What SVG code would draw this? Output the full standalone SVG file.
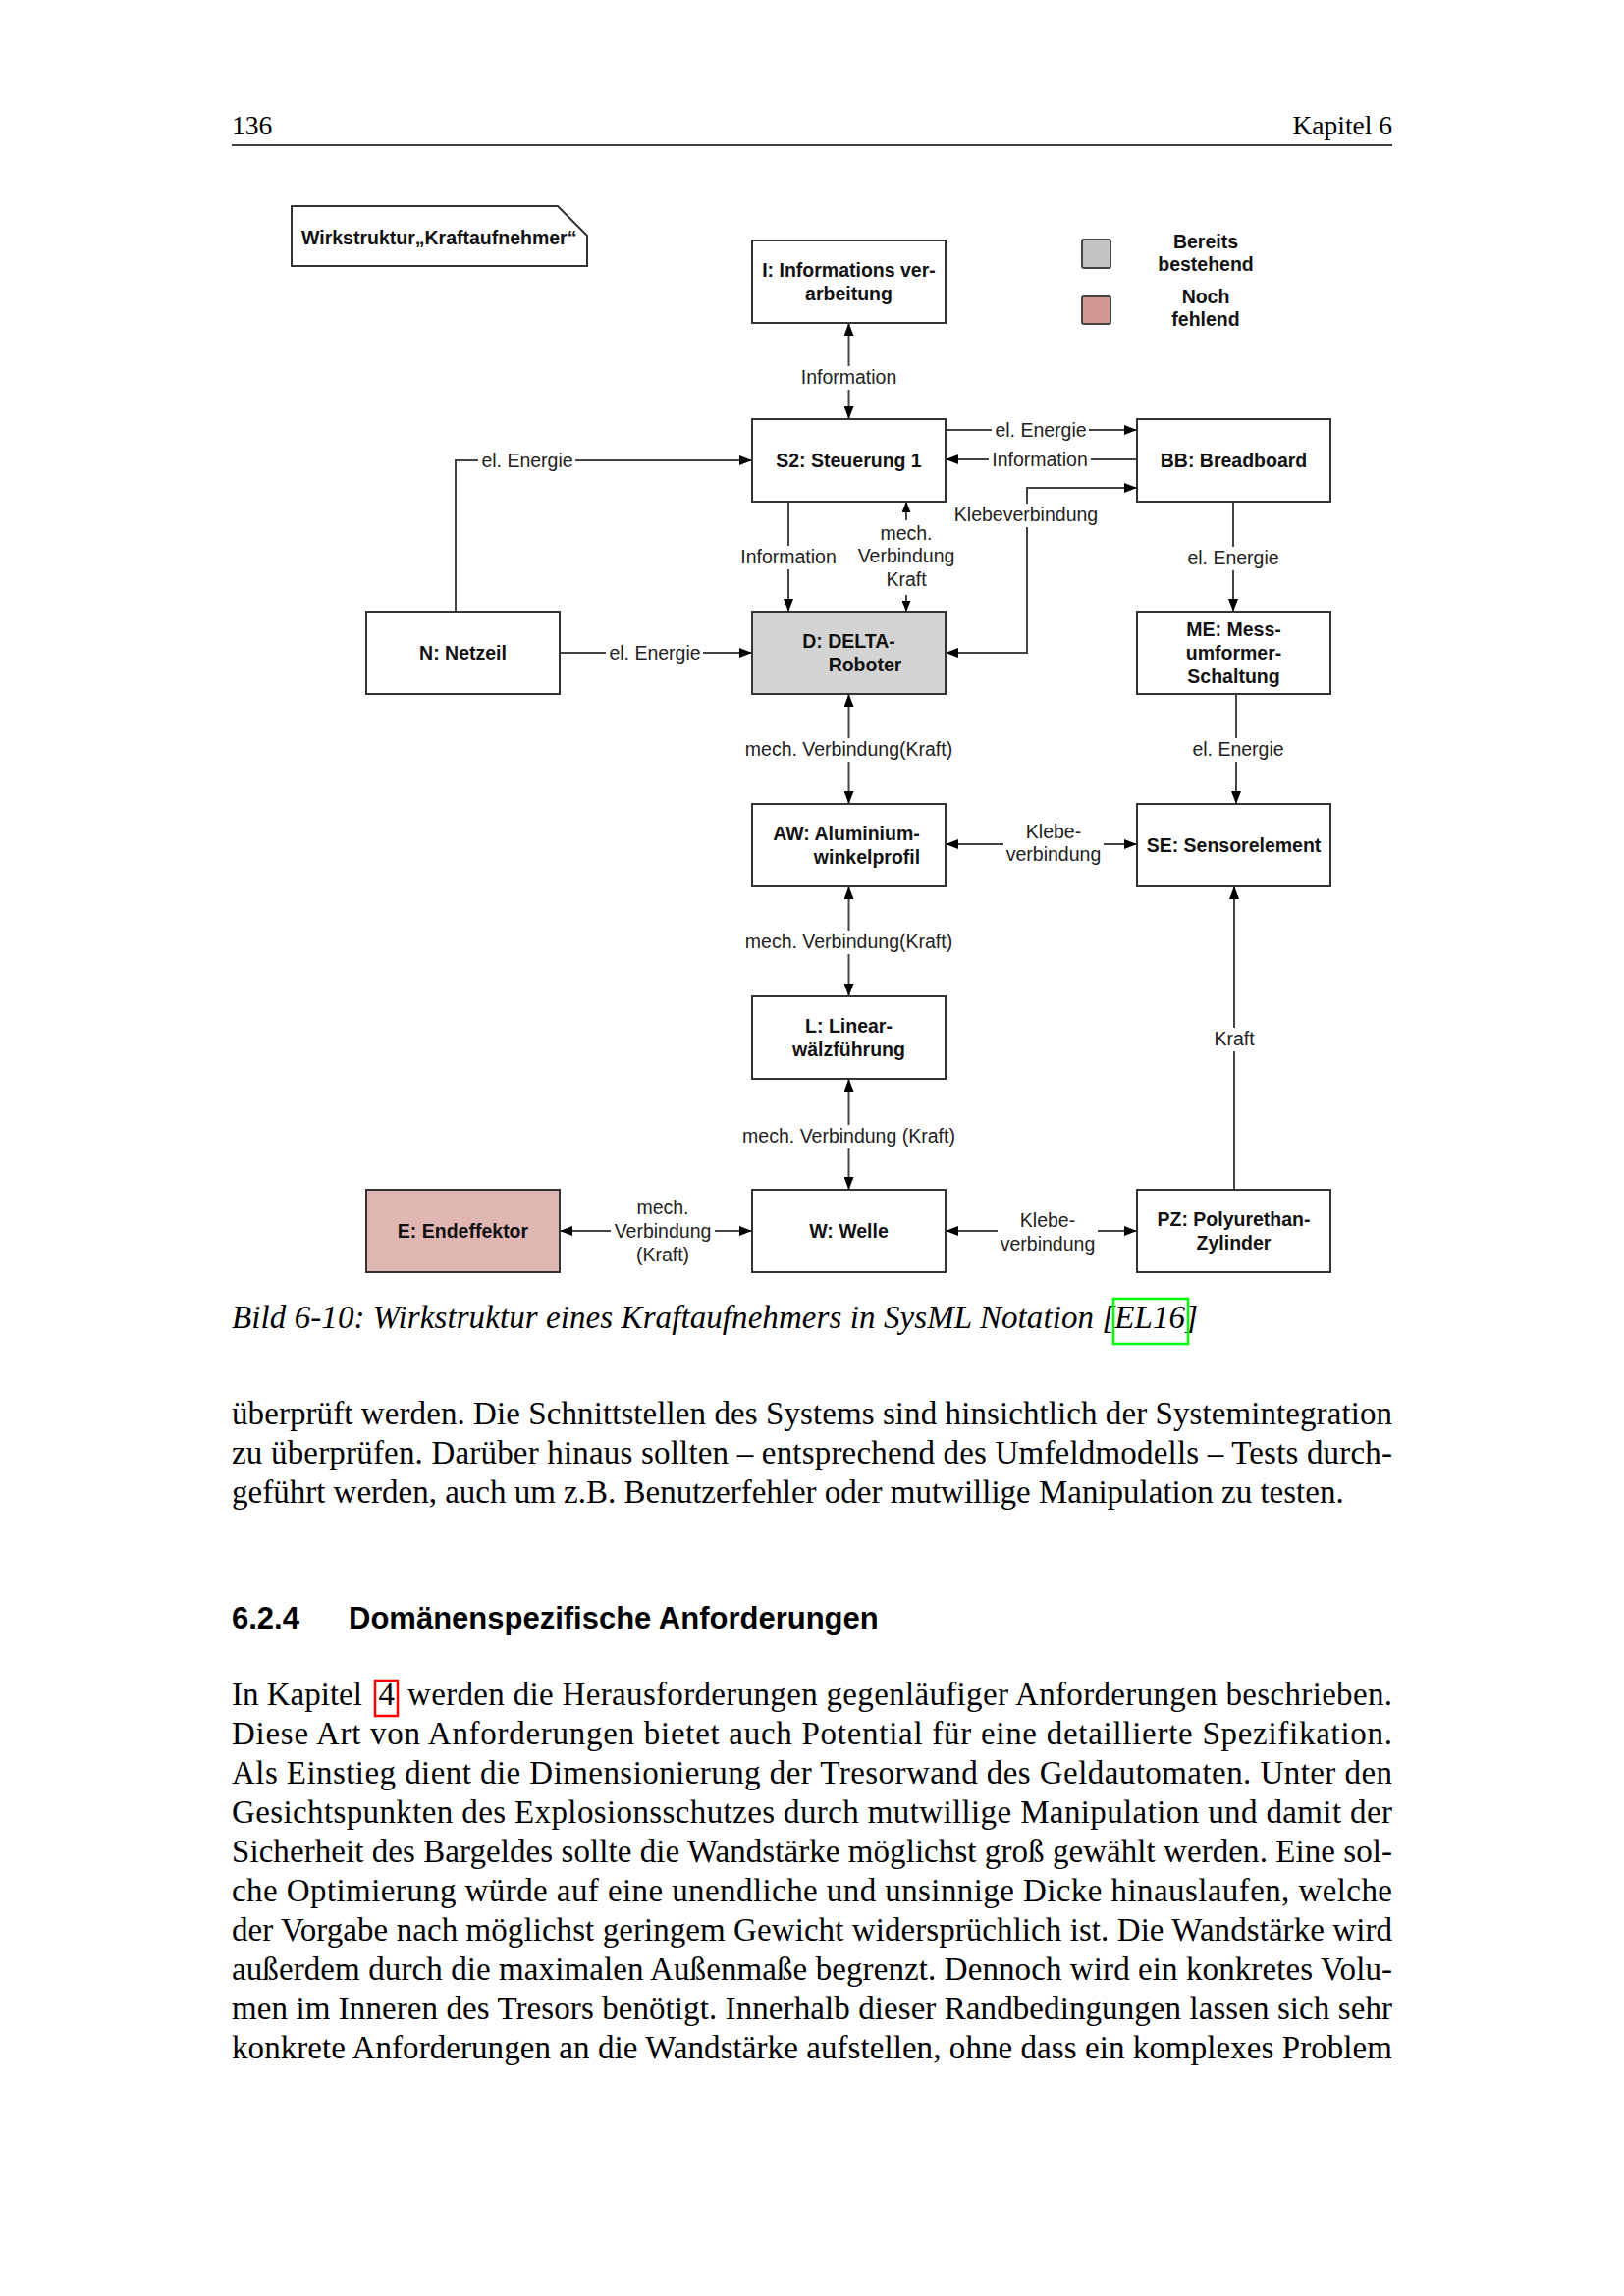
<svg xmlns="http://www.w3.org/2000/svg" width="1654" height="2339" viewBox="0 0 1654 2339">
<style>
.box{fill:#fff;stroke:#333;stroke-width:2}
.conn{fill:none;stroke:#444;stroke-width:2}
.nt{font-family:"Liberation Sans",Arial,sans-serif;font-size:19.5px;font-weight:bold;fill:#111;text-anchor:middle}
.lt{font-family:"Liberation Sans",Arial,sans-serif;font-size:19.5px;fill:#222;text-anchor:middle}
.bg{fill:#fff}
.body{font-family:"Liberation Serif","Times New Roman",serif;font-size:33px;fill:#000}
.hd{font-family:"Liberation Serif","Times New Roman",serif;font-size:27.5px;fill:#000}
.h2{font-family:"Liberation Sans",Arial,sans-serif;font-size:31px;font-weight:bold;fill:#000}
</style>
<defs>
<marker id="ah" viewBox="0 0 13 10" refX="13" refY="5" markerWidth="13" markerHeight="10" markerUnits="userSpaceOnUse" orient="auto-start-reverse"><path d="M0,0 L13,5 L0,10 z" fill="#000"/></marker>
<marker id="ahs" viewBox="0 0 11 9" refX="11" refY="4.5" markerWidth="11" markerHeight="9" markerUnits="userSpaceOnUse" orient="auto-start-reverse"><path d="M0,0 L11,4.5 L0,9 z" fill="#000"/></marker>
</defs>
<rect width="1654" height="2339" fill="#fff"/>

<g id="page">
<text class="hd" x="236" y="137">136</text>
<text class="hd" x="1418" y="137" text-anchor="end">Kapitel 6</text>
<line x1="236" y1="148" x2="1418" y2="148" stroke="#000" stroke-width="1.4"/>
<text class="body" x="236" y="1353" font-style="italic" textLength="984" lengthAdjust="spacing">Bild 6-10: Wirkstruktur eines Kraftaufnehmers in SysML Notation [EL16]</text>
<rect x="1134" y="1323" width="76" height="46" fill="none" stroke="#00ff00" stroke-width="2.5"/>
<text class="body" x="236" y="1451" textLength="1182" lengthAdjust="spacing">überprüft werden. Die Schnittstellen des Systems sind hinsichtlich der Systemintegration</text>
<text class="body" x="236" y="1491" textLength="1182" lengthAdjust="spacing">zu überprüfen. Darüber hinaus sollten – entsprechend des Umfeldmodells – Tests durch-</text>
<text class="body" x="236" y="1531">geführt werden, auch um z.B. Benutzerfehler oder mutwillige Manipulation zu testen.</text>
<text class="h2" x="236" y="1659">6.2.4</text>
<text class="h2" x="355" y="1659">Domänenspezifische Anforderungen</text>
<text class="body" x="236" y="1737">In Kapitel</text>
<text class="body" x="385.5" y="1737">4</text>
<text class="body" x="415" y="1737" textLength="1003" lengthAdjust="spacing">werden die Herausforderungen gegenläufiger Anforderungen beschrieben.</text>
<rect x="382" y="1712" width="23" height="36" fill="none" stroke="#ff0000" stroke-width="2.5"/>
<text class="body" x="236" y="1777" textLength="1182" lengthAdjust="spacing">Diese Art von Anforderungen bietet auch Potential für eine detaillierte Spezifikation.</text>
<text class="body" x="236" y="1817" textLength="1182" lengthAdjust="spacing">Als Einstieg dient die Dimensionierung der Tresorwand des Geldautomaten. Unter den</text>
<text class="body" x="236" y="1857" textLength="1182" lengthAdjust="spacing">Gesichtspunkten des Explosionsschutzes durch mutwillige Manipulation und damit der</text>
<text class="body" x="236" y="1897" textLength="1182" lengthAdjust="spacing">Sicherheit des Bargeldes sollte die Wandstärke möglichst groß gewählt werden. Eine sol-</text>
<text class="body" x="236" y="1937" textLength="1182" lengthAdjust="spacing">che Optimierung würde auf eine unendliche und unsinnige Dicke hinauslaufen, welche</text>
<text class="body" x="236" y="1977" textLength="1182" lengthAdjust="spacing">der Vorgabe nach möglichst geringem Gewicht widersprüchlich ist. Die Wandstärke wird</text>
<text class="body" x="236" y="2017" textLength="1182" lengthAdjust="spacing">außerdem durch die maximalen Außenmaße begrenzt. Dennoch wird ein konkretes Volu-</text>
<text class="body" x="236" y="2057" textLength="1182" lengthAdjust="spacing">men im Inneren des Tresors benötigt. Innerhalb dieser Randbedingungen lassen sich sehr</text>
<text class="body" x="236" y="2097" textLength="1182" lengthAdjust="spacing">konkrete Anforderungen an die Wandstärke aufstellen, ohne dass ein komplexes Problem</text>
</g>

<g id="frame">
<path d="M297,210 H568 L598,240 V271 H297 Z" fill="#fff" stroke="#333" stroke-width="2"/>
<text class="nt" x="307" y="249" style="text-anchor:start">Wirkstruktur„Kraftaufnehmer“</text>
</g>

<g id="legend">
<rect x="1102" y="244" width="29" height="29" rx="2" fill="#c3c3c3" stroke="#444" stroke-width="2"/>
<rect x="1102" y="302" width="29" height="28" rx="2" fill="#d49893" stroke="#444" stroke-width="2"/>
<text class="nt" x="1228" y="253" font-size="19">Bereits</text>
<text class="nt" x="1228" y="276" font-size="19">bestehend</text>
<text class="nt" x="1228" y="309" font-size="19">Noch</text>
<text class="nt" x="1228" y="332" font-size="19">fehlend</text>
</g>

<g id="connectors">
<path class="conn" d="M864.5,329 V427" marker-start="url(#ah)" marker-end="url(#ah)"/>
<path class="conn" d="M963,438 H1158" marker-end="url(#ah)"/>
<path class="conn" d="M1158,468 H963" marker-end="url(#ah)"/>
<path class="conn" d="M963,665 H1046 V497 H1158" marker-start="url(#ah)" marker-end="url(#ah)"/>
<path class="conn" d="M464,623 V469 H766" marker-end="url(#ah)"/>
<path class="conn" d="M570,665 H766" marker-end="url(#ah)"/>
<path class="conn" d="M803,511 V623" marker-end="url(#ah)"/>
<path class="conn" d="M923,511 V623" marker-start="url(#ahs)" marker-end="url(#ahs)"/>
<path class="conn" d="M864.5,707 V819" marker-start="url(#ah)" marker-end="url(#ah)"/>
<path class="conn" d="M1256,511 V623" marker-end="url(#ah)"/>
<path class="conn" d="M1259,707 V819" marker-end="url(#ah)"/>
<path class="conn" d="M963,860 H1158" marker-start="url(#ah)" marker-end="url(#ah)"/>
<path class="conn" d="M864.5,903 V1015" marker-start="url(#ah)" marker-end="url(#ah)"/>
<path class="conn" d="M864.5,1099 V1212" marker-start="url(#ah)" marker-end="url(#ah)"/>
<path class="conn" d="M1257,1212 V903" marker-end="url(#ah)"/>
<path class="conn" d="M570,1254 H766" marker-start="url(#ah)" marker-end="url(#ah)"/>
<path class="conn" d="M963,1254 H1158" marker-start="url(#ah)" marker-end="url(#ah)"/>

<rect class="bg" x="859" y="373" width="11" height="24"/>
<text class="lt" x="864.5" y="391">Information</text>
<rect class="bg" x="1010" y="433" width="99" height="10"/>
<text class="lt" x="1060" y="445">el. Energie</text>
<rect class="bg" x="1007" y="463" width="104" height="10"/>
<text class="lt" x="1059" y="475">Information</text>
<rect class="bg" x="1041" y="513" width="10" height="24"/>
<text class="lt" x="1045" y="531">Klebeverbindung</text>
<rect class="bg" x="487" y="464" width="99" height="10"/>
<text class="lt" x="537" y="476">el. Energie</text>
<rect class="bg" x="617" y="660" width="99" height="10"/>
<text class="lt" x="667" y="672">el. Energie</text>
<rect class="bg" x="798" y="556" width="10" height="24"/>
<text class="lt" x="803" y="574">Information</text>
<rect class="bg" x="918" y="530" width="10" height="76"/>
<text class="lt" x="923" y="550">mech.</text>
<text class="lt" x="923" y="573">Verbindung</text>
<text class="lt" x="923" y="597">Kraft</text>
<rect class="bg" x="859" y="752" width="11" height="24"/>
<text class="lt" x="864.5" y="770">mech. Verbindung(Kraft)</text>
<rect class="bg" x="1251" y="557" width="10" height="24"/>
<text class="lt" x="1256" y="575">el. Energie</text>
<rect class="bg" x="1254" y="752" width="10" height="24"/>
<text class="lt" x="1261" y="770">el. Energie</text>
<rect class="bg" x="1022" y="855" width="102" height="10"/>
<text class="lt" x="1073" y="854">Klebe-</text>
<text class="lt" x="1073" y="877">verbindung</text>
<rect class="bg" x="859" y="948" width="11" height="24"/>
<text class="lt" x="864.5" y="966">mech. Verbindung(Kraft)</text>
<rect class="bg" x="859" y="1146" width="11" height="24"/>
<text class="lt" x="864.5" y="1164">mech. Verbindung (Kraft)</text>
<rect class="bg" x="1252" y="1047" width="10" height="24"/>
<text class="lt" x="1257" y="1065">Kraft</text>
<rect class="bg" x="622" y="1249" width="106" height="10"/>
<text class="lt" x="675" y="1237">mech.</text>
<text class="lt" x="675" y="1261">Verbindung</text>
<text class="lt" x="675" y="1285">(Kraft)</text>
<rect class="bg" x="1016" y="1249" width="102" height="10"/>
<text class="lt" x="1067" y="1250">Klebe-</text>
<text class="lt" x="1067" y="1274">verbindung</text>
</g>

<g id="node-I">
<rect class="box" x="766" y="245" width="197" height="84"/>
<text class="nt" x="864.5" y="282">I: Informations ver-</text>
<text class="nt" x="864.5" y="306">arbeitung</text>
</g>
<g id="node-S2">
<rect class="box" x="766" y="427" width="197" height="84"/>
<text class="nt" x="864.5" y="476">S2: Steuerung 1</text>
</g>
<g id="node-BB">
<rect class="box" x="1158" y="427" width="197" height="84"/>
<text class="nt" x="1256.5" y="476">BB: Breadboard</text>
</g>
<g id="node-N">
<rect class="box" x="373" y="623" width="197" height="84"/>
<text class="nt" x="471.5" y="672">N: Netzeil</text>
</g>
<g id="node-D">
<rect class="box" x="766" y="623" width="197" height="84" style="fill:#d4d4d4"/>
<text class="nt" x="864.5" y="660">D: DELTA-</text>
<text class="nt" x="881" y="684">Roboter</text>
</g>
<g id="node-ME">
<rect class="box" x="1158" y="623" width="197" height="84"/>
<text class="nt" x="1256.5" y="648">ME: Mess-</text>
<text class="nt" x="1256.5" y="672">umformer-</text>
<text class="nt" x="1256.5" y="696">Schaltung</text>
</g>
<g id="node-AW">
<rect class="box" x="766" y="819" width="197" height="84"/>
<text class="nt" x="862" y="856">AW: Aluminium-</text>
<text class="nt" x="883" y="880">winkelprofil</text>
</g>
<g id="node-SE">
<rect class="box" x="1158" y="819" width="197" height="84"/>
<text class="nt" x="1256.5" y="868">SE: Sensorelement</text>
</g>
<g id="node-L">
<rect class="box" x="766" y="1015" width="197" height="84"/>
<text class="nt" x="864.5" y="1052">L: Linear-</text>
<text class="nt" x="864.5" y="1076">wälzführung</text>
</g>
<g id="node-E">
<rect class="box" x="373" y="1212" width="197" height="84" style="fill:#e0b6b3"/>
<text class="nt" x="471.5" y="1261">E: Endeffektor</text>
</g>
<g id="node-W">
<rect class="box" x="766" y="1212" width="197" height="84"/>
<text class="nt" x="864.5" y="1261">W: Welle</text>
</g>
<g id="node-PZ">
<rect class="box" x="1158" y="1212" width="197" height="84"/>
<text class="nt" x="1256.5" y="1249">PZ: Polyurethan-</text>
<text class="nt" x="1256.5" y="1273">Zylinder</text>
</g>
</svg>
